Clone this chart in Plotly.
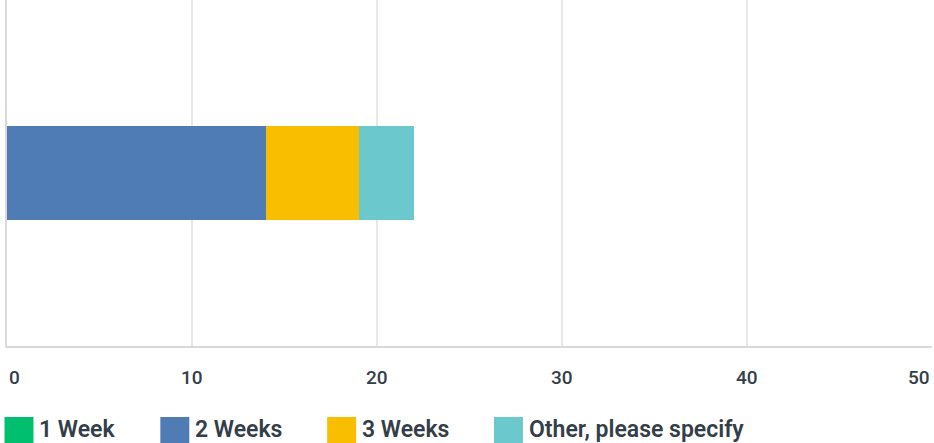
import plotly.graph_objects as go

# ---- data ----
categories = [""]
series_names = ["1 Week", "2 Weeks", "3 Weeks", "Other, please specify"]
series_values = [[0], [14], [5], [3]]
series_colors = ["#00bf6f", "#507cb6", "#f9be00", "#6bc8cd"]
tick_values = [0, 10, 20, 30, 40, 50]
tick_labels = ["0", "10", "20", "30", "40", "50"]

# ---- layout constants (pixels) ----
W, H = 934, 443
ML, MR, MT, MB = 6.5, 1.5, 0, 97
PW = W - ML - MR
PH = H - MT - MB
TEXT = "#333e48"
FONT = "Roboto"

def px_x(px):
    return (px - ML) / PW

def px_y(py):
    return (H - MB - py) / PH

fig = go.Figure()
for name, vals, col in zip(series_names, series_values, series_colors):
    fig.add_trace(go.Bar(
        y=categories, x=vals, name=name, orientation="h",
        marker=dict(color=col, line=dict(width=0)),
        showlegend=False, hoverinfo="skip",
    ))

annotations = []
# tick labels
for v, t in zip(tick_values, tick_labels):
    anchor = "center"
    if v == tick_values[0]:
        anchor = "left"
    elif v == tick_values[-1]:
        anchor = "right"
    annotations.append(dict(
        x=v, xref="x", y=px_y(377), yref="paper", text=t, showarrow=False,
        xanchor=anchor, yanchor="middle",
        font=dict(family=FONT, size=19, color=TEXT, weight=500),
    ))

# custom legend
sq_left = [4, 160, 327, 494]
shapes = []
for name, col, sx in zip(series_names, series_colors, sq_left):
    shapes.append(dict(
        type="rect", xref="paper", yref="paper",
        x0=px_x(sx), x1=px_x(sx + 29), y0=px_y(417), y1=px_y(447),
        fillcolor=col, line=dict(width=0), layer="above",
    ))
    annotations.append(dict(
        x=px_x(sx + 33), xref="paper", y=px_y(429), yref="paper", text=name,
        showarrow=False, xanchor="left", yanchor="middle",
        font=dict(family=FONT, size=23, color=TEXT, weight=600),
    ))

fig.update_layout(
    width=W, height=H,
    margin=dict(l=ML, r=MR, t=MT, b=MB, pad=0),
    barmode="stack",
    bargap=0.73,
    plot_bgcolor="white", paper_bgcolor="white",
    xaxis=dict(
        range=[0, 50], tickvals=tick_values, showticklabels=False,
        showgrid=True, gridcolor="#e8e8e8", gridwidth=1.5,
        zeroline=False, showline=True, linecolor="#d9d9d9", linewidth=2,
        ticks="", fixedrange=True,
    ),
    yaxis=dict(
        showticklabels=False, showgrid=False, zeroline=False,
        showline=True, linecolor="#d9d9d9", linewidth=2, ticks="",
        range=[-0.5, 0.5], fixedrange=True,
    ),
    annotations=annotations,
    shapes=shapes,
    showlegend=False,
)

fig.write_html(
    "out.html",
    config={"displayModeBar": False},
    post_script="document.body.style.margin='0';document.body.style.overflow='hidden';",
)
